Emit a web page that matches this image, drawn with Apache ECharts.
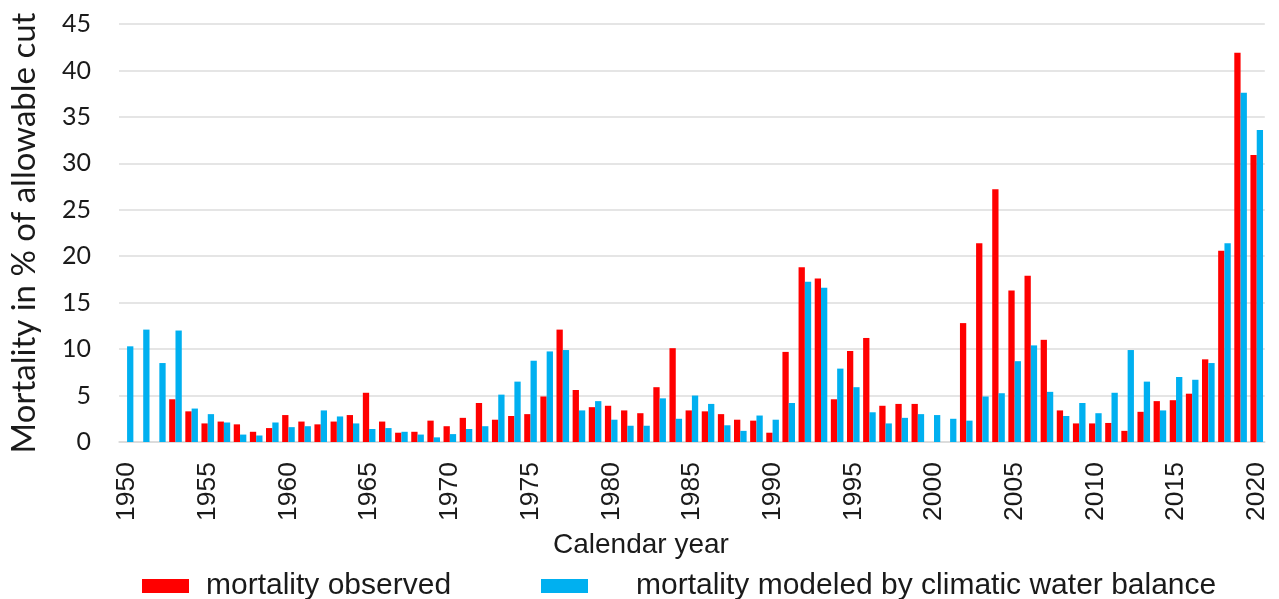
<!DOCTYPE html>
<html>
<head>
<meta charset="utf-8">
<script src="https://cdn.jsdelivr.net/npm/echarts@6/dist/echarts.min.js"></script>
<style>
html,body{margin:0;padding:0;background:#fff;}
#chart{width:1279px;height:599px;}
</style>
</head>
<body>
<div id="chart"></div>
<script>
const years = [];
for (let y = 1950; y <= 2020; y++) years.push(String(y));

const observed = [
  null, null, null, 4.6, 3.3, 2.0, 2.2, 1.9, 1.1, 1.5,
  2.9, 2.2, 1.9, 2.2, 2.9, 5.3, 2.2, 1.0, 1.1, 2.3,
  1.7, 2.6, 4.2, 2.4, 2.8, 3.0, 4.9, 12.1, 5.6, 3.75,
  3.9, 3.4, 3.1, 5.9, 10.1, 3.4, 3.3, 3.0, 2.4, 2.3,
  1.0, 9.7, 18.8, 17.6, 4.6, 9.8, 11.2, 3.9, 4.1, 4.1,
  null, null, 12.8, 21.4, 27.2, 16.3, 17.9, 11.0, 3.4, 2.0,
  2.0, 2.05, 1.2, 3.25, 4.4, 4.5, 5.2, 8.9, 20.6, 41.9,
  30.9
];

const modeled = [
  10.3, 12.1, 8.5, 12.0, 3.6, 3.0, 2.1, 0.8, 0.7, 2.1,
  1.6, 1.7, 3.4, 2.75, 2.0, 1.4, 1.5, 1.1, 0.8, 0.5,
  0.85, 1.4, 1.7, 5.1, 6.5, 8.75, 9.75, 9.9, 3.4, 4.4,
  2.4, 1.75, 1.75, 4.7, 2.5, 5.0, 4.1, 1.8, 1.2, 2.85,
  2.4, 4.2, 17.25, 16.6, 7.9, 5.9, 3.2, 2.0, 2.6, 3.0,
  2.9, 2.5, 2.3, 4.9, 5.25, 8.7, 10.4, 5.4, 2.8, 4.2,
  3.1, 5.3, 9.9, 6.5, 3.4, 7.0, 6.7, 8.5, 21.4, 37.6,
  33.6
];

const seriesNames = ['mortality observed', 'mortality modeled by climatic water balance'];
const yTitle = 'Mortality in % of allowable cut';
const xTitle = 'Calendar year';

const chart = echarts.init(document.getElementById('chart'));
const txt = '#1a1a1a';
chart.setOption({
  animation: false,
  backgroundColor: '#fff',
  title: {
    text: xTitle,
    left: 553, top: 531,
    padding: 0,
    textStyle: { fontFamily: 'Liberation Sans', fontSize: 28, fontWeight: 'normal', color: txt }
  },
  legend: [
    {
      data: [seriesNames[0]],
      left: 142, top: 571, padding: 0,
      itemWidth: 47, itemHeight: 14, icon: 'rect',
      textStyle: { fontFamily: 'Liberation Sans', fontSize: 30, color: txt, padding: [0, 0, 0, 12] }
    },
    {
      data: [seriesNames[1]],
      left: 541, top: 571, padding: 0,
      itemWidth: 47, itemHeight: 14, icon: 'rect',
      textStyle: { fontFamily: 'Liberation Sans', fontSize: 30, color: txt, padding: [0, 0, 0, 43] }
    }
  ],
  grid: { left: 118.5, right: 14.2, top: 24, bottom: 157, containLabel: false },
  xAxis: {
    type: 'category',
    data: years,
    axisLine: { lineStyle: { color: '#d9d9d9', width: 1.5 } },
    axisTick: { show: false },
    axisLabel: {
      interval: 4, rotate: 90, margin: 20,
      fontFamily: 'Liberation Sans', fontSize: 26.5, color: txt
    }
  },
  yAxis: {
    type: 'value',
    min: 0, max: 45, interval: 5,
    name: yTitle,
    nameLocation: 'middle',
    nameGap: 78,
    nameRotate: 90,
    nameTextStyle: { fontFamily: 'Lato', fontSize: 33, color: txt },
    axisLine: { show: false },
    axisTick: { show: false },
    axisLabel: { margin: 28, fontFamily: 'Lato', fontSize: 25, color: txt },
    splitLine: { lineStyle: { color: '#dcdcdc', width: 1.5 } }
  },
  series: [
    {
      name: seriesNames[0], type: 'bar', data: observed,
      barWidth: 6.3, barGap: '0%',
      itemStyle: { color: '#ff0000' }
    },
    {
      name: seriesNames[1], type: 'bar', data: modeled,
      barWidth: 6.3, barGap: '0%',
      itemStyle: { color: '#00b0f0' }
    }
  ]
});
</script>
</body>
</html>
